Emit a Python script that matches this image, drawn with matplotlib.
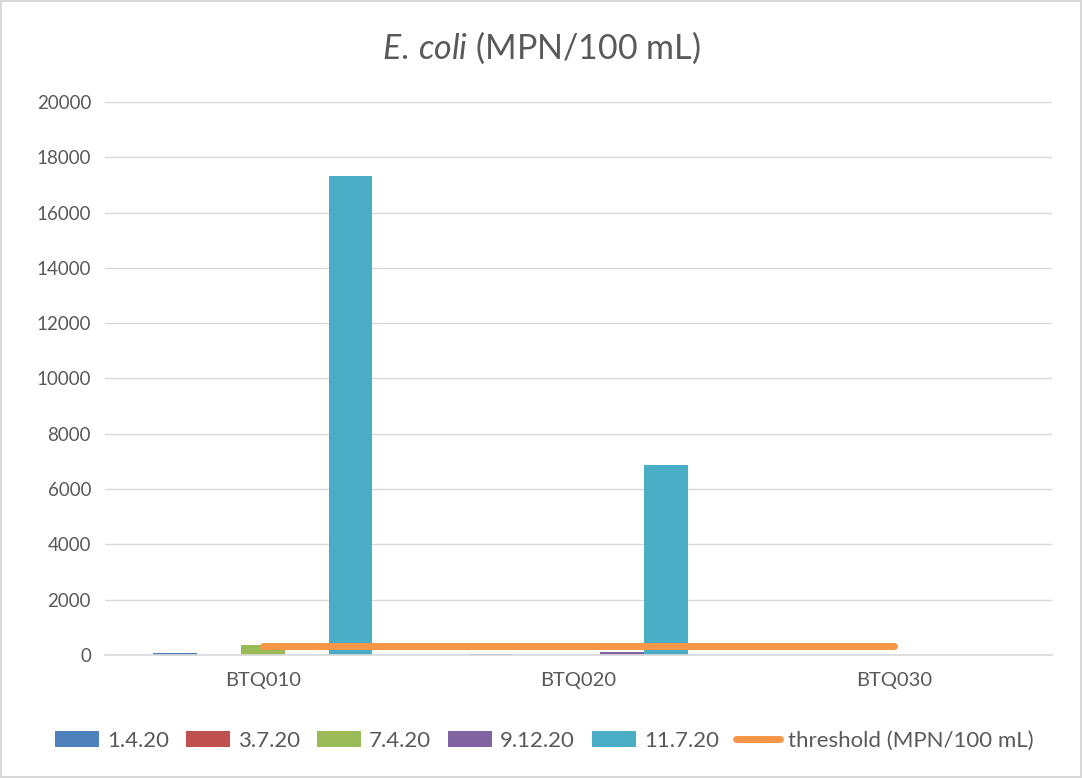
import matplotlib
matplotlib.use("Agg")
import matplotlib.pyplot as plt
import numpy as np

plt.rcParams['font.family'] = ['Lato', 'DejaVu Sans']
plt.rcParams['mathtext.fontset'] = 'custom'
plt.rcParams['mathtext.it'] = 'Lato:italic'
plt.rcParams['mathtext.rm'] = 'Lato'

sites = ["BTQ010", "BTQ020", "BTQ030"]
dates = ["1.4.20", "3.7.20", "7.4.20", "9.12.20", "11.7.20"]
ecoli = {
    "1.4.20": [70, 40, 10],
    "3.7.20": [20, 20, 10],
    "7.4.20": [350, 0, 10],
    "9.12.20": [0, 110, 0],
    "11.7.20": [17329, 6867, 10],
}
threshold = [320, 320, 320]
colors = ["#4F81BD", "#C0504D", "#9BBB59", "#8064A2", "#4BACC6"]

fig = plt.figure(figsize=(10.82, 7.78), dpi=100)
fig.patch.set_edgecolor("#D9D9D9")
fig.patch.set_linewidth(1.5)
ax = fig.add_axes([0.097, 0.158, 0.875, 0.711])

x = np.arange(len(sites))
w = 0.139
handles = []
for i, d in enumerate(dates):
    h = ax.bar(x + (i - 2) * w, ecoli[d], width=w, color=colors[i], label=d, zorder=2)
    handles.append(h)
ln, = ax.plot(x, threshold, color="#F79646", lw=5, solid_capstyle="round",
              label="threshold (MPN/100 mL)", zorder=3)
handles.append(ln)

ax.set_xlim(-0.5, 2.5)
ax.set_ylim(0, 20000)
ax.set_yticks(np.arange(0, 20001, 2000))
ax.set_xticks(x)
ax.set_xticklabels(sites)
ax.grid(axis="y", color="#D9D9D9", lw=1, zorder=0)
for s in ["top", "right", "left"]:
    ax.spines[s].set_visible(False)
ax.spines["bottom"].set_color("#D9D9D9")
ax.spines["bottom"].set_linewidth(1.2)
ax.tick_params(length=0, labelsize=13.5, colors="#595959", pad=10)
ax.tick_params(axis="x", labelsize=14.5, pad=12)

fig.text(0.5, 0.938, r"$E.\,coli$ (MPN/100 mL)", ha="center", va="center",
         fontsize=24.5, color="#595959")

fig.legend(handles=handles, loc="center", bbox_to_anchor=(0.503, 0.048), ncol=6,
           frameon=False, fontsize=16, labelcolor="#595959", handlelength=2.0,
           handleheight=0.7, columnspacing=0.75, handletextpad=0.35)

fig.savefig("out.png", dpi=100)
